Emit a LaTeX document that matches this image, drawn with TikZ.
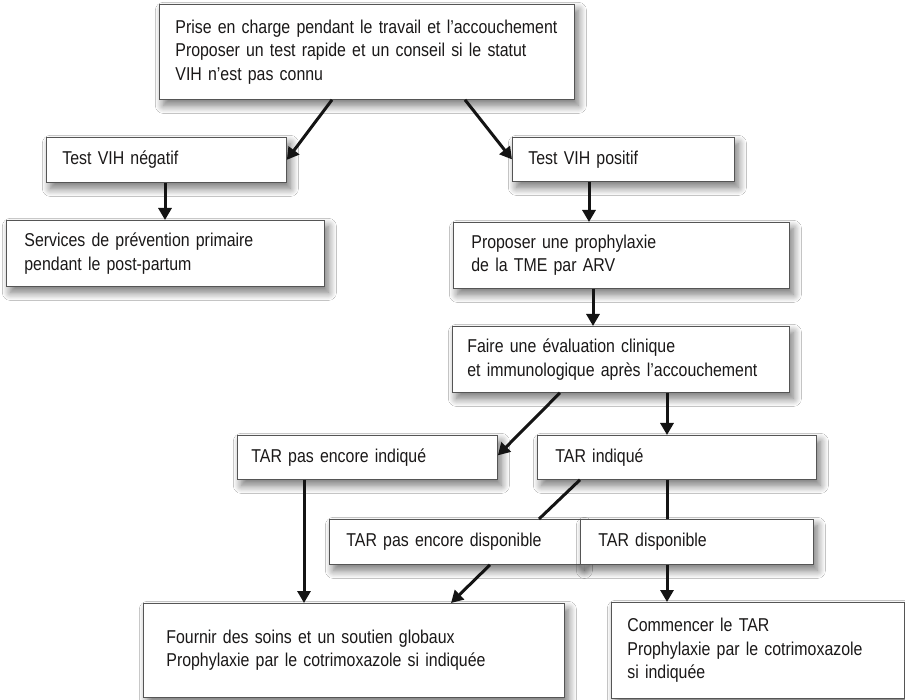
\documentclass[tikz,border=0pt]{standalone}
\usepackage{fontspec}
\setmainfont[FakeStretch=0.855]{Liberation Sans}
\usetikzlibrary{arrows.meta,shadows.blur}
\definecolor{txt}{HTML}{1A1818}
\definecolor{edge}{HTML}{555555}
\tikzset{
  box/.style={draw=edge, line width=0.8pt, fill=white, anchor=north west,
    inner ysep=0pt, inner xsep=16pt, align=left, text=txt,
    font=\fontsize{18.6}{23.4}\selectfont,
    blur shadow={shadow xshift=4pt, shadow yshift=-6pt, shadow blur steps=14, shadow opacity=55, shadow blur radius=8pt}},
  arr/.style={line width=3pt, draw=black!92, -{Triangle[length=12pt,width=13pt]}},
  link/.style={line width=3pt, draw=black!92}
}
\begin{document}
\begin{tikzpicture}[x=1pt,y=-1pt]
\useasboundingbox[fill=white] (0,0) rectangle (905,700);
\node[box, minimum height=95pt, text width=383pt] (top) at (159,4)
  {Prise en charge pendant le travail et l’accouchement\\Proposer un test rapide et un conseil si le statut\\VIH n’est pas connu};
\node[box, minimum height=45pt, text width=208pt] (neg) at (46,137) {Test VIH négatif};
\node[box, minimum height=44pt, text width=190pt] (pos) at (512,137) {Test VIH positif};
\node[box, minimum height=66pt, inner xsep=18pt, text width=282pt] (serv) at (6,220)
  {Services de prévention primaire\\pendant le post-partum};
\node[box, minimum height=66pt, inner xsep=18pt, text width=300pt] (prop) at (453,222)
  {Proposer une prophylaxie\\de la TME par ARV};
\node[box, minimum height=66pt, inner xsep=15pt, text width=307pt] (faire) at (452,326)
  {Faire une évaluation clinique\\et immunologique après l’accouchement};
\node[box, minimum height=44pt, inner xsep=14pt, text width=232pt] (tpei) at (237,435) {TAR pas encore indiqué};
\node[box, minimum height=44pt, inner xsep=18pt, text width=243pt] (ti) at (537,435) {TAR indiqué};
\node[box, minimum height=45pt, inner xsep=17pt, text width=217pt] (tped) at (329,519) {TAR pas encore disponible};
\node[box, minimum height=45pt, inner xsep=18pt, text width=197pt] (td) at (580,519) {TAR disponible};
\node[box, minimum height=94pt, inner xsep=23pt, text width=375pt] (fournir) at (143,603)
  {Fournir des soins et un soutien globaux\\Prophylaxie par le cotrimoxazole si indiquée};
\node[box, minimum height=96pt, inner xsep=16pt, text width=261pt] (comm) at (611,602)
  {Commencer le TAR\\Prophylaxie par le cotrimoxazole\\si indiquée};

\draw[arr] ([xshift=173pt]top.south west) -- (neg.east);
\draw[arr] ([xshift=306pt]top.south west) -- (pos.west);
\draw[arr] ([xshift=119pt]neg.south west) -- ([xshift=159pt]serv.north west);
\draw[arr] ([xshift=77pt]pos.south west) -- ([xshift=136pt]prop.north west);
\draw[arr] ([xshift=140pt]prop.south west) -- ([xshift=141pt]faire.north west);
\draw[arr] ([xshift=108pt]faire.south west) -- ([yshift=2pt]tpei.east);
\draw[arr] ([xshift=215pt]faire.south west) -- ([xshift=130pt]ti.north west);
\draw[link] ([xshift=43pt]ti.south west) -- ([xshift=210pt]tped.north west);
\draw[link] ([xshift=130pt]ti.south west) -- ([xshift=87pt]td.north west);
\draw[arr] ([xshift=67pt]tpei.south west) -- ([xshift=161pt]fournir.north west);
\draw[arr] ([xshift=161pt]tped.south west) -- ([xshift=308pt]fournir.north west);
\draw[arr] ([xshift=87pt]td.south west) -- ([xshift=56pt]comm.north west);
\end{tikzpicture}
\end{document}
